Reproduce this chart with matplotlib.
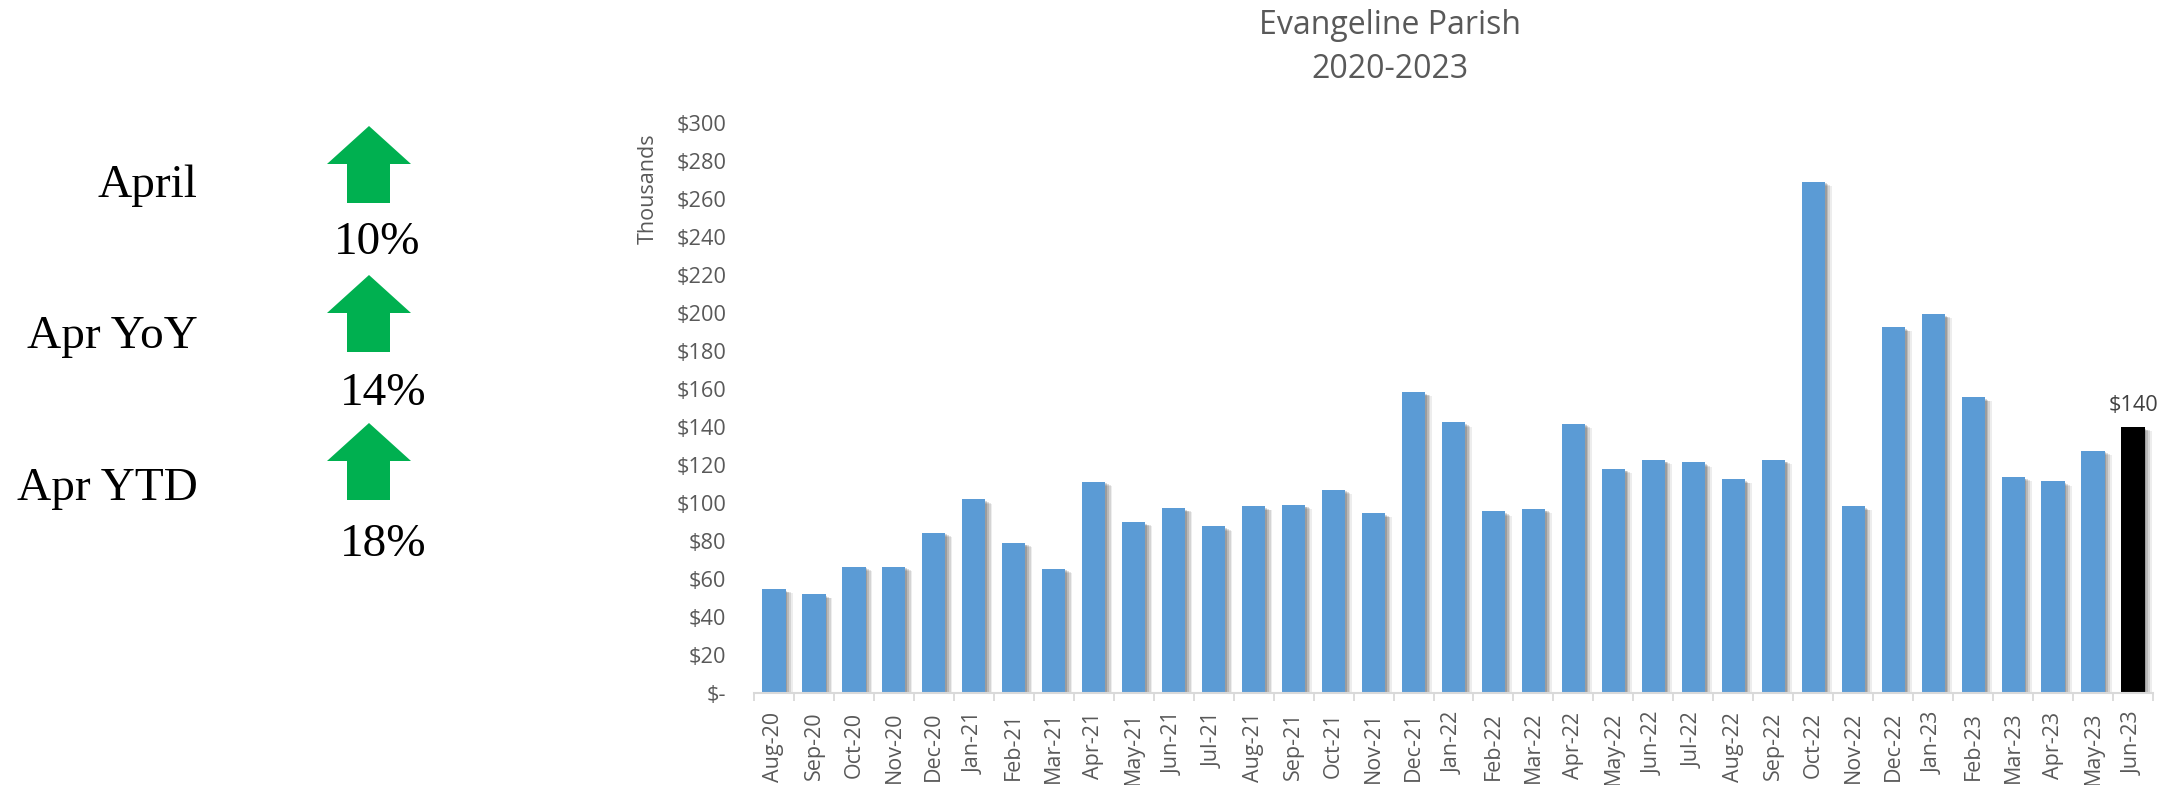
import numpy as np
import matplotlib
matplotlib.use("Agg")
import matplotlib.pyplot as plt
from matplotlib.patches import Polygon
import matplotlib.patheffects as pe

# ---------------- data ----------------
months = ["Aug-20", "Sep-20", "Oct-20", "Nov-20", "Dec-20", "Jan-21", "Feb-21", "Mar-21",
          "Apr-21", "May-21", "Jun-21", "Jul-21", "Aug-21", "Sep-21", "Oct-21", "Nov-21",
          "Dec-21", "Jan-22", "Feb-22", "Mar-22", "Apr-22", "May-22", "Jun-22", "Jul-22",
          "Aug-22", "Sep-22", "Oct-22", "Nov-22", "Dec-22", "Jan-23", "Feb-23", "Mar-23",
          "Apr-23", "May-23", "Jun-23"]
values = [54.7, 52.0, 66.5, 66.5, 84.4, 101.9, 79.0, 65.5,
          111.2, 90.0, 97.3, 87.7, 98.3, 99.0, 107.1, 94.6,
          158.4, 142.4, 95.6, 96.9, 141.8, 117.9, 122.7, 121.4,
          112.5, 122.7, 269.2, 98.3, 192.5, 199.4, 155.7, 113.7,
          111.4, 127.6, 140.0]
y_ticks = list(range(0, 301, 20))
kpi_labels = ["April", "Apr YoY", "Apr YTD"]
kpi_pcts = [10, 14, 18]
title_lines = ["Evangeline Parish", "2020-2023"]

# ---------------- style ----------------
W, H = 2182, 785
GRAY = "#595959"
BLUE = "#5B9BD5"
LINE = "#D9D9D9"
plt.rcParams["font.family"] = ["Open Sans", "DejaVu Sans"]

fig = plt.figure(figsize=(W / 100, H / 100), dpi=100)
fig.patch.set_facecolor("white")

ax = fig.add_axes([754 / W, 92 / H, 1399 / W, 570 / H])
n = len(values)
x = np.arange(n)
colors = [BLUE] * (n - 1) + ["#000000"]
shadow = [
    pe.SimplePatchShadow(offset=(5.0, -3.0), shadow_rgbFace="black", alpha=0.07),
    pe.SimplePatchShadow(offset=(3.8, -2.4), shadow_rgbFace="black", alpha=0.10),
    pe.SimplePatchShadow(offset=(2.5, -1.8), shadow_rgbFace="black", alpha=0.13),
    pe.SimplePatchShadow(offset=(1.3, -1.2), shadow_rgbFace="black", alpha=0.15),
    pe.Normal(),
]
bars = ax.bar(x, values, width=0.58, color=colors, zorder=3)
for b in bars:
    b.set_path_effects(shadow)

ax.set_xlim(-0.5, n - 0.5)
ax.set_ylim(0, 300)
ax.set_yticks(y_ticks)
ax.set_yticklabels(["$-" if v == 0 else f"${v}" for v in y_ticks])
ax.tick_params(axis="y", length=0, pad=20, labelsize=15.7, labelcolor=GRAY)

ax.set_xticks(x)
ax.set_xticklabels(months, rotation=90, va="top", ha="center")
ax.tick_params(axis="x", which="major", length=0, pad=13.5, labelsize=15.5, labelcolor=GRAY)
ax.set_xticks(np.arange(-0.5, n, 1.0), minor=True)
ax.tick_params(axis="x", which="minor", length=6, width=1.3, color=LINE)

for s in ["left", "top", "right"]:
    ax.spines[s].set_visible(False)
ax.spines["bottom"].set_color(LINE)
ax.spines["bottom"].set_linewidth(1.5)
ax.spines["bottom"].set_zorder(4)

ax.annotate(f"${values[-1]:.0f}", xy=(x[-1], values[-1]), xytext=(0, 11.5),
            textcoords="offset points", ha="center", va="baseline",
            fontsize=15.7, color="#404040")

fig.text(648 / W, 1 - 189 / H, "Thousands", rotation=90, ha="center", va="center",
         fontsize=15.5, color=GRAY)
fig.text(1390 / W, 1 - 34 / H, title_lines[0], ha="center", va="baseline",
         fontsize=23, color=GRAY)
fig.text(1390 / W, 1 - 78 / H, title_lines[1], ha="center", va="baseline",
         fontsize=23, color=GRAY)

# ---------------- left KPI panel ----------------
ov = fig.add_axes([0, 0, 1, 1])
ov.set_xlim(0, W)
ov.set_ylim(H, 0)
ov.axis("off")

row_top = [126, 275, 423]
label_base = [197, 348, 500]
pct_base = [254, 405, 556]
pct_cx = [377, 383, 383]
GREEN = "#00B050"
for i, (lab, p) in enumerate(zip(kpi_labels, kpi_pcts)):
    t = row_top[i]
    pts = [(369, t), (411, t + 38), (390, t + 38), (390, t + 77),
           (347, t + 77), (347, t + 38), (327, t + 38)]
    ov.add_patch(Polygon(pts, closed=True, facecolor=GREEN, edgecolor="none"))
    ov.text(198, label_base[i], lab, ha="right", va="baseline", fontsize=34,
            family=["Liberation Serif", "DejaVu Serif"], color="black")
    ov.text(pct_cx[i], pct_base[i], f"{p}%", ha="center", va="baseline", fontsize=34,
            family=["Liberation Serif", "DejaVu Serif"], color="black")

fig.savefig("out.png", dpi=100, facecolor="white")
